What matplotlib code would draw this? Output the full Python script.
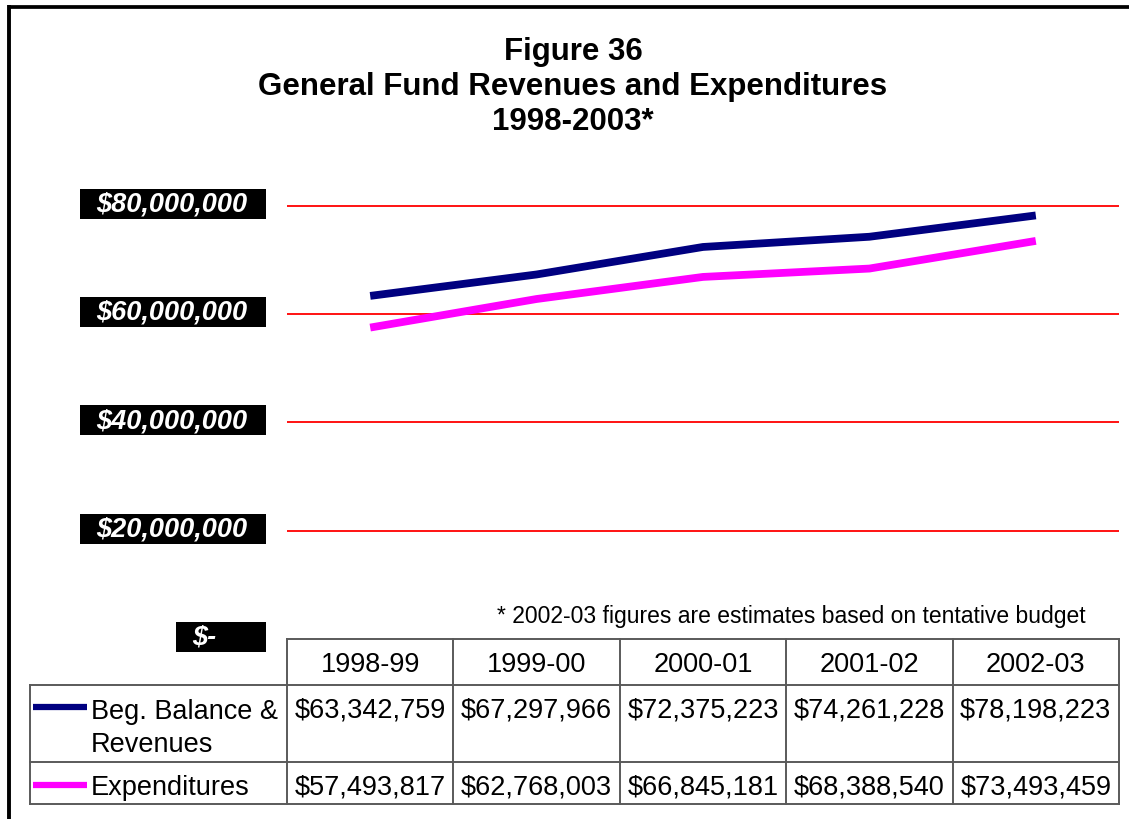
import matplotlib
matplotlib.use("Agg")
import matplotlib.pyplot as plt
from matplotlib.patches import Rectangle
from matplotlib.lines import Line2D
from matplotlib.transforms import blended_transform_factory

plt.rcParams['font.family'] = ['Liberation Sans', 'DejaVu Sans']

# data
years = ['1998-99', '1999-00', '2000-01', '2001-02', '2002-03']
revenues = [63342759, 67297966, 72375223, 74261228, 78198223]
expenditures = [57493817, 62768003, 66845181, 68388540, 73493459]
series_names = [['Beg. Balance &', 'Revenues'], ['Expenditures']]
y_ticks = [0, 20000000, 40000000, 60000000, 80000000]
y_tick_labels = ['$-', '$20,000,000', '$40,000,000', '$60,000,000', '$80,000,000']
title_lines = ['Figure 36', 'General Fund Revenues and Expenditures', '1998-2003*']
footnote = '* 2002-03 figures are estimates based on tentative budget'

W, H = 1129, 820
NAVY = '#000080'
MAGENTA = '#FF00FF'
GRID = '#5a5a5a'
FS = 19.5


def fx(px):
    return px / W


def fy(py):
    return 1 - py / H


def money(v):
    return '${:,}'.format(v)


fig = plt.figure(figsize=(W / 100, H / 100), dpi=100)
fig.patch.set_facecolor('white')

ax = fig.add_axes([fx(287), fy(640), fx(1119) - fx(287), (640 - 185) / H])
ax.set_xlim(-0.5, len(years) - 0.5)
ax.set_ylim(0, 84000000)
ax.axis('off')

for v in y_ticks[1:]:
    ax.axhline(v, color='#FF0000', lw=1.3, zorder=1)

x = list(range(len(years)))
ax.plot(x, revenues, color=NAVY, lw=5.6, solid_capstyle='butt', zorder=3)
ax.plot(x, expenditures, color=MAGENTA, lw=5.6, solid_capstyle='butt', zorder=3)

# y tick labels as white text on black boxes
tr = blended_transform_factory(fig.transFigure, ax.transData)
box_h = 30 / 108.3 * 20000000
for v, lab in zip(y_ticks, y_tick_labels):
    left = 176 if len(lab) <= 2 else 80
    cy = v + 2 / 108.3 * 20000000
    fig.add_artist(Rectangle((fx(left), cy - box_h / 2), fx(266) - fx(left), box_h,
                             transform=tr, facecolor='black', edgecolor='none'))
    if len(lab) <= 2:
        fig.text(fx(192), cy, lab, transform=tr, ha='left', va='center', color='white',
                 fontsize=FS, fontweight='bold', fontstyle='italic')
    else:
        fig.text(fx(247), cy, lab, transform=tr, ha='right', va='center', color='white',
                 fontsize=FS, fontweight='bold', fontstyle='italic')

# title
for ty, t in zip([52, 87, 122], title_lines):
    fig.text(fx(573), fy(ty), t, ha='center', va='center', fontsize=22.5, fontweight='bold')

# footnote
fig.text(fx(497), fy(617), footnote, ha='left', va='center', fontsize=16.5)

# data table
col_edges = [287, 453, 620, 786, 953, 1119]
row_edges = [640, 686, 763, 805]


def hline(y, x0, x1, **kw):
    fig.add_artist(Line2D([fx(x0), fx(x1)], [fy(y), fy(y)], transform=fig.transFigure, **kw))


def vline(xp, y0, y1, **kw):
    fig.add_artist(Line2D([fx(xp), fx(xp)], [fy(y0), fy(y1)], transform=fig.transFigure, **kw))


hline(640, 287, 1119, color=GRID, lw=1.4)
for y in row_edges[1:]:
    hline(y, 30, 1119, color=GRID, lw=1.4)
for xp in col_edges:
    vline(xp, 640, 805, color=GRID, lw=1.4)
vline(30, 686, 805, color=GRID, lw=1.4)

trt = blended_transform_factory(ax.transData, fig.transFigure)
for i, yr in enumerate(years):
    fig.text(i, fy(665), yr, transform=trt, ha='center', va='center', fontsize=FS)
    fig.text(i, fy(711), money(revenues[i]), transform=trt, ha='center', va='center', fontsize=FS)
    fig.text(i, fy(788), money(expenditures[i]), transform=trt, ha='center', va='center', fontsize=FS)

# row labels with legend keys
hline(708, 33, 87, color=NAVY, lw=4.5, solid_capstyle='butt')
hline(786, 33, 87, color=MAGENTA, lw=4.5, solid_capstyle='butt')
fig.text(fx(91), fy(712), series_names[0][0], ha='left', va='center', fontsize=FS)
fig.text(fx(91), fy(745), series_names[0][1], ha='left', va='center', fontsize=FS)
fig.text(fx(91), fy(788), series_names[1][0], ha='left', va='center', fontsize=FS)

# outer border (top and left edges visible)
hline(7.5, 8, 1129, color='black', lw=2.7, solid_capstyle='butt')
vline(9.3, 6, 820, color='black', lw=2.8, solid_capstyle='butt')

fig.savefig('out.png', dpi=100)
